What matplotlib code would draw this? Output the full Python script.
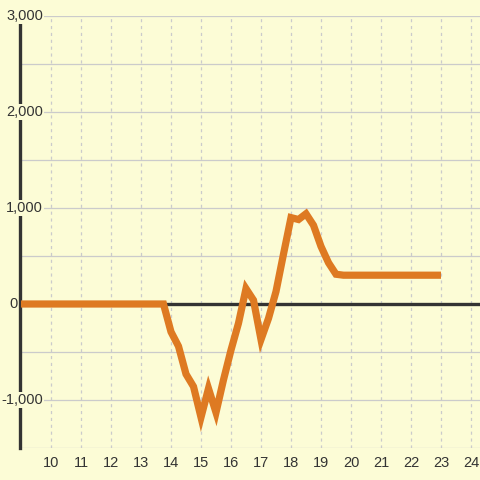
import matplotlib
matplotlib.use("Agg")
import matplotlib.pyplot as plt
import numpy as np

hours = [9.0, 9.25, 9.5, 9.75, 10.0, 10.25, 10.5, 10.75, 11.0, 11.25, 11.5, 11.75,
         12.0, 12.25, 12.5, 12.75, 13.0, 13.25, 13.5, 13.75,
         14.0, 14.25, 14.5, 14.75, 15.0, 15.25, 15.5, 15.75,
         16.0, 16.25, 16.5, 16.75, 17.0, 17.25, 17.5, 17.75,
         18.0, 18.25, 18.5, 18.75, 19.0, 19.25, 19.5, 19.75,
         20.0, 20.5, 21.0, 21.5, 22.0, 22.5, 23.0]
values = [0, 0, 0, 0, 0, 0, 0, 0, 0, 0, 0, 0,
          0, 0, 0, 0, 0, 0, 0, 0,
          -290, -440, -730, -860, -1180, -880, -1130, -790,
          -480, -200, 160, 40, -370, -150, 130, 520,
          900, 880, 940, 820, 600, 430, 310, 300,
          300, 300, 300, 300, 300, 300, 300]
x_ticks = list(range(10, 25))
y_grid = [-1500, -1000, -500, 0, 500, 1000, 1500, 2000, 2500, 3000]
y_labels = {-1000: "-1,000", 0: "0", 1000: "1,000", 2000: "2,000", 3000: "3,000"}

bg = "#fcfcd6"
fig = plt.figure(figsize=(4.8, 4.8), dpi=100, facecolor=bg)
ax = fig.add_axes([20/480, 32/480, 460/480, 432/480], facecolor=bg)
ax.set_xlim(8.967, 24.3)
ax.set_ylim(-1500, 3000)

for s in ["top", "right", "bottom"]:
    ax.spines[s].set_visible(False)
ax.spines["left"].set_color("#333333")
ax.spines["left"].set_linewidth(2.4)
ax.spines["left"].set_zorder(3)

for y in y_grid:
    if y == 0:
        continue
    ax.axhline(y, color="#cbcbcb", lw=0.9, zorder=1)
for x in x_ticks:
    ax.axvline(x, color="#cbcbcb", lw=0.9, ls=(0, (2.5, 3)), zorder=1)
ax.axhline(0, color="#333333", lw=2.4, zorder=2)

ax.plot(hours, values, color="#de7a22", lw=5.2, zorder=4,
        solid_joinstyle="miter", solid_capstyle="butt")

ax.set_yticks([])
ax.set_xticks(x_ticks)
ax.set_xticklabels([str(v) for v in x_ticks], fontsize=10.5, color="#333333",
                   family="Liberation Sans")
ax.tick_params(axis="x", length=0, pad=6)

for y, lab in y_labels.items():
    if y == 0:
        xpos = 8.9
        ax.text(xpos, y, lab, ha="right", va="center", fontsize=10.5, color="#333333",
                family="Liberation Sans", zorder=5, clip_on=False)
    else:
        ax.text(9.73, y, lab, ha="right", va="center", fontsize=10.5, color="#333333",
                family="Liberation Sans", zorder=5, clip_on=False,
                bbox=dict(facecolor=bg, edgecolor="none", pad=1.0))

fig.savefig("out.png", dpi=100, facecolor=bg)
